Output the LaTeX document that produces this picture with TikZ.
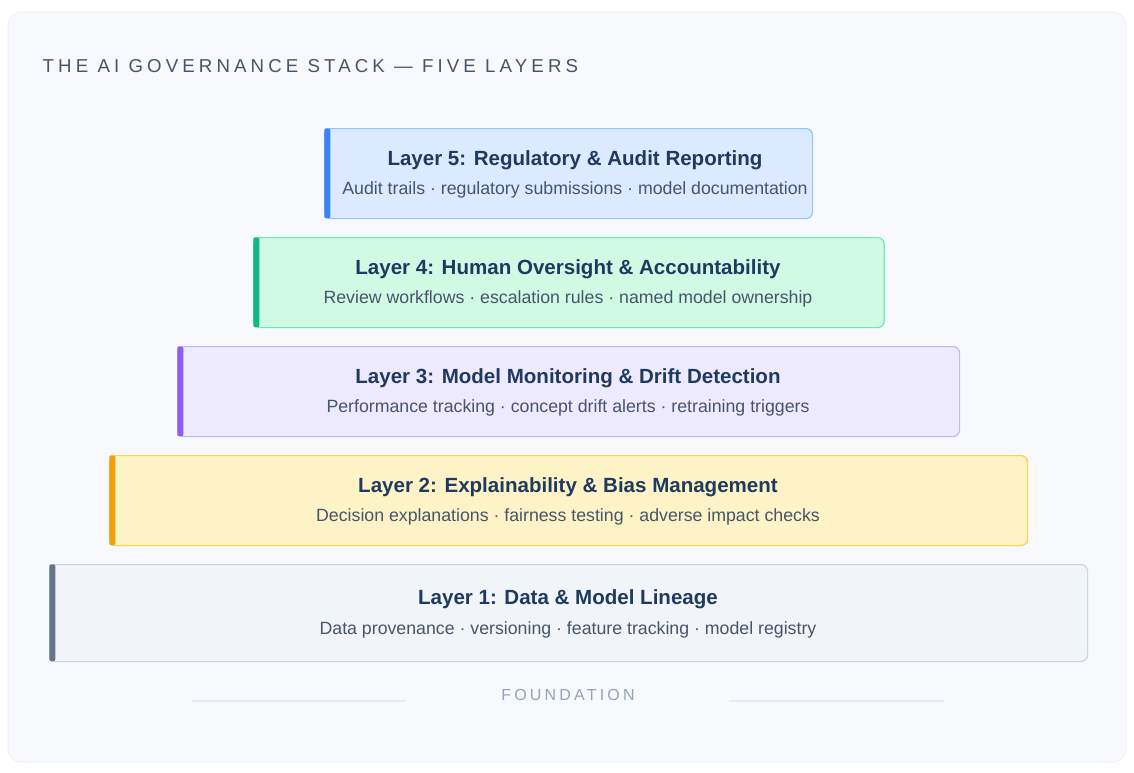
\documentclass[tikz,border=0pt]{standalone}
\usepackage{fontspec}
\setmainfont{Liberation Sans}
\usetikzlibrary{positioning}

\definecolor{navy}{HTML}{1E3A5F}
\definecolor{slate}{HTML}{475569}
\definecolor{pale}{HTML}{94A3B8}
\definecolor{cardbg}{HTML}{F7F9FC}
\definecolor{cardline}{HTML}{E8ECF2}
\definecolor{fillA}{HTML}{DBEAFE}\definecolor{lineA}{HTML}{93C5FD}\definecolor{barA}{HTML}{3B82F6}
\definecolor{fillB}{HTML}{D1FAE5}\definecolor{lineB}{HTML}{6EE7B7}\definecolor{barB}{HTML}{10B981}
\definecolor{fillC}{HTML}{EDE9FE}\definecolor{lineC}{HTML}{C4B5FD}\definecolor{barC}{HTML}{8B5CF6}
\definecolor{fillD}{HTML}{FEF3C7}\definecolor{lineD}{HTML}{FCD34D}\definecolor{barD}{HTML}{F59E0B}
\definecolor{fillE}{HTML}{F1F5F9}\definecolor{lineE}{HTML}{CBD5E1}\definecolor{barE}{HTML}{64748B}

\tikzstyle{layer} = [rectangle, rounded corners=5pt, inner sep=0pt, anchor=north west, line width=0.9pt]
\tikzstyle{bar} = [rectangle, rounded corners=1.5pt, inner sep=0pt, anchor=north west, minimum width=4.5pt, draw=none]
\tikzstyle{head} = [font=\bfseries\fontsize{15.4}{17}\selectfont, text=navy]
\tikzstyle{sub} = [font=\fontsize{13.3}{15}\selectfont, text=slate]

\begin{document}
\begin{tikzpicture}[x=0.75pt,y=-0.75pt]
\useasboundingbox (0,0) rectangle (1134,772);
\fill[white] (0,0) rectangle (1134,772);
\draw[cardline, fill=cardbg, rounded corners=10pt] (8,12) rectangle (1126,762);

\node[anchor=west, text=slate, font=\fontsize{14}{16}\selectfont\addfontfeatures{LetterSpace=22}] (title) at (38,66) {THE AI GOVERNANCE STACK — FIVE LAYERS};

% layer 5
\node[layer, fill=fillA, draw=lineA, minimum width=366pt, minimum height=67.5pt] (l5) at (324,128) {};
\node[bar, fill=barA, minimum height=67.5pt] (b5) at (324,128) {};
\node[head] (h5) at (575,160) {Layer 5: Regulatory \& Audit Reporting};
\node[sub] (s5) at (575,190) {Audit trails · regulatory submissions · model documentation};

% layer 4
\node[layer, fill=fillB, draw=lineB, minimum width=473pt, minimum height=67.5pt] (l4) at (253,237) {};
\node[bar, fill=barB, minimum height=67.5pt] (b4) at (253,237) {};
\node[head] (h4) at (568,269) {Layer 4: Human Oversight \& Accountability};
\node[sub] (s4) at (568,299) {Review workflows · escalation rules · named model ownership};

% layer 3
\node[layer, fill=fillC, draw=lineC, minimum width=586.5pt, minimum height=67.5pt] (l3) at (177,346) {};
\node[bar, fill=barC, minimum height=67.5pt] (b3) at (177,346) {};
\node[head] (h3) at (568,378) {Layer 3: Model Monitoring \& Drift Detection};
\node[sub] (s3) at (568,408) {Performance tracking · concept drift alerts · retraining triggers};

% layer 2
\node[layer, fill=fillD, draw=lineD, minimum width=688.5pt, minimum height=67.5pt] (l2) at (109,455) {};
\node[bar, fill=barD, minimum height=67.5pt] (b2) at (109,455) {};
\node[head] (h2) at (568,487) {Layer 2: Explainability \& Bias Management};
\node[sub] (s2) at (568,517) {Decision explanations · fairness testing · adverse impact checks};

% layer 1
\node[layer, fill=fillE, draw=lineE, minimum width=778.5pt, minimum height=72.75pt] (l1) at (49,564) {};
\node[bar, fill=barE, minimum height=72.75pt] (b1) at (49,564) {};
\node[head] (h1) at (568,599) {Layer 1: Data \& Model Lineage};
\node[sub] (s1) at (568,630) {Data provenance · versioning · feature tracking · model registry};

% foundation
\node[text=pale, font=\fontsize{12}{14}\selectfont\addfontfeatures{LetterSpace=20}] (found) at (568,695) {FOUNDATION};
\coordinate (fl) at (192,701);
\coordinate (fr) at (944,701);
\draw[cardline, line width=0.8pt] (fl) -- (406,701);
\draw[cardline, line width=0.8pt] (729,701) -- (fr);
\end{tikzpicture}
\end{document}
